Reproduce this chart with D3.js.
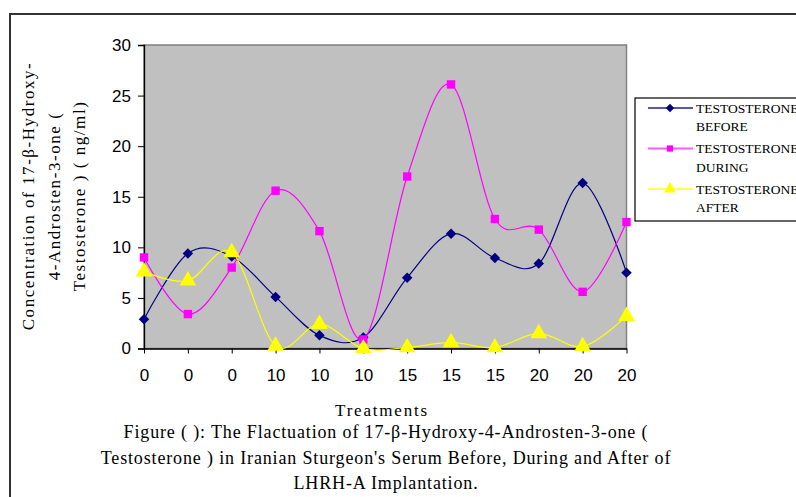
<!DOCTYPE html>
<html>
<head>
<meta charset="utf-8">
<script src="https://cdn.jsdelivr.net/npm/d3@7"></script>
<style>
  html, body { margin: 0; padding: 0; background: #fff; overflow: hidden; }
  svg { display: block; }
</style>
</head>
<body>
<div id="chart"></div>
<script>
// Treatment categories (dose), one per sample along the x axis
const categories = ["0", "0", "0", "10", "10", "10", "15", "15", "15", "20", "20", "20"];

// Testosterone (ng/ml)
const before = [2.9, 9.4, 9.1, 5.1, 1.3, 1.1, 7.0, 11.35, 8.95, 8.4, 16.35, 7.5];
const during = [9.0, 3.4, 8.0, 15.6, 11.6, 0.9, 17.0, 26.1, 12.8, 11.75, 5.6, 12.5];
const after  = [7.6, 6.7, 9.5, 0.25, 2.4, 0.0, 0.1, 0.6, 0.1, 1.5, 0.2, 3.2];

const yTicks = [0, 5, 10, 15, 20, 25, 30];

const seriesNames = ["TESTOSTERONE BEFORE", "TESTOSTERONE DURING", "TESTOSTERONE AFTER"];

const W = 796, H = 497;
const plot = { left: 144, right: 626.5, top: 45, bottom: 348.5 };

const svg = d3.select("#chart").append("svg")
    .attr("width", W)
    .attr("height", H);

// outer frame, runs off the right and bottom edges
svg.append("rect")
    .attr("x", 10).attr("y", 14)
    .attr("width", 900).attr("height", 600)
    .attr("fill", "none")
    .attr("stroke", "#333")
    .attr("stroke-width", 2);

const x = d3.scalePoint()
    .domain(d3.range(categories.length))
    .range([plot.left, plot.right]);

const y = d3.scaleLinear()
    .domain([0, 30])
    .range([plot.bottom, plot.top]);

// plot area
svg.append("rect")
    .attr("x", plot.left).attr("y", plot.top)
    .attr("width", plot.right - plot.left)
    .attr("height", plot.bottom - plot.top)
    .attr("fill", "#c0c0c0")
    .attr("stroke", "#808080")
    .attr("stroke-width", 1.5);

// y axis
const yAxis = svg.append("g")
    .attr("transform", `translate(${plot.left},0)`)
    .call(d3.axisLeft(y).tickValues(yTicks).tickSize(6).tickPadding(7));
yAxis.select(".domain").attr("stroke", "#000").attr("stroke-width", 1.3);
yAxis.selectAll(".tick line").attr("stroke", "#000");
yAxis.selectAll("text")
    .attr("fill", "#000")
    .style("font-family", "'Liberation Sans', Arial, sans-serif")
    .style("font-size", "17px");

// x axis
const xAxis = svg.append("g")
    .attr("transform", `translate(0,${plot.bottom})`)
    .call(d3.axisBottom(x).tickFormat(i => categories[i]).tickSize(5).tickPadding(15).tickSizeOuter(0));
xAxis.select(".domain").attr("stroke", "#000").attr("stroke-width", 1.3);
xAxis.selectAll(".tick line").attr("stroke", "#000");
xAxis.selectAll("text")
    .attr("fill", "#000")
    .style("font-family", "'Liberation Sans', Arial, sans-serif")
    .style("font-size", "17px");

const line = d3.line()
    .x((d, i) => x(i))
    .y(d => y(d))
    .curve(d3.curveCardinal.tension(0));

const diamond = d3.symbol().type(d3.symbolDiamond2).size(70);
const square = d3.symbol().type(d3.symbolSquare2).size(90);
const triangle = d3.symbol().type(d3.symbolTriangle).size(120);

const series = [
    { name: seriesNames[0], values: before, color: "#000080", symbol: diamond, legendSymbol: d3.symbol().type(d3.symbolDiamond2).size(45) },
    { name: seriesNames[1], values: during, color: "#ff00ff", symbol: square, legendSymbol: d3.symbol().type(d3.symbolSquare2).size(50) },
    { name: seriesNames[2], values: after, color: "#ffff00", symbol: triangle, legendSymbol: d3.symbol().type(d3.symbolTriangle).size(60) }
];

const lines = svg.append("g");
series.forEach(s => {
    lines.append("path")
        .datum(s.values)
        .attr("fill", "none")
        .attr("stroke", s.color)
        .attr("stroke-width", 1.2)
        .attr("d", line);
});

// markers on top of all lines, drawn in series order
series.forEach(s => {
    lines.append("g").selectAll("path")
        .data(s.values)
        .join("path")
        .attr("transform", (d, i) => `translate(${x(i)},${y(d)})`)
        .attr("d", s.symbol)
        .attr("fill", s.color);
});

// legend
const legend = svg.append("g").attr("transform", "translate(635,98)");
legend.append("rect")
    .attr("width", 200).attr("height", 123)
    .attr("fill", "#fff")
    .attr("stroke", "#000")
    .attr("stroke-width", 1.2);

series.forEach((s, i) => {
    const row = legend.append("g").attr("transform", `translate(0,${10 + i * 40.5})`);
    row.append("line")
        .attr("x1", 13).attr("x2", 58)
        .attr("y1", 0).attr("y2", 0)
        .attr("stroke", s.color)
        .attr("stroke-opacity", 0.65)
        .attr("stroke-width", 2);
    row.append("path")
        .attr("transform", "translate(35,0)")
        .attr("d", s.legendSymbol)
        .attr("fill", s.color);
    const words = s.name.split(" ");
    const t = row.append("text")
        .attr("x", 61)
        .attr("y", 4.8)
        .style("font-family", "'Liberation Serif', 'Times New Roman', serif")
        .style("font-size", "13.5px")
        .attr("fill", "#000");
    t.append("tspan").attr("x", 61).attr("dy", 0).text(words[0]);
    t.append("tspan").attr("x", 61).attr("dy", 18.5).text(words[1]);
});

// y axis title
const yTitle = ["Concentration of 17-β-Hydroxy-", "4-Androsten-3-one (", "Testosterone ) ( ng/ml)"];
const yt = svg.append("text")
    .attr("transform", "translate(34,196) rotate(-90)")
    .attr("text-anchor", "middle")
    .style("font-family", "'Liberation Serif', 'Times New Roman', serif")
    .style("font-size", "17px")
    .style("letter-spacing", "1.55px")
    .attr("fill", "#000");
yTitle.forEach((l, i) => {
    yt.append("tspan").attr("x", 0).attr("y", i * 25.5).text(l);
});

// x axis title
svg.append("text")
    .attr("x", 382).attr("y", 416)
    .attr("text-anchor", "middle")
    .style("font-family", "'Liberation Serif', 'Times New Roman', serif")
    .style("font-size", "17px")
    .style("letter-spacing", "1.8px")
    .attr("fill", "#000")
    .text("Treatments");

// caption
const caption = [
    "Figure ( ): The Flactuation of 17-β-Hydroxy-4-Androsten-3-one (",
    "Testosterone ) in Iranian Sturgeon's Serum Before, During and After of",
    "LHRH-A Implantation."
];
const cap = svg.append("text")
    .attr("text-anchor", "middle")
    .style("font-family", "'Liberation Serif', 'Times New Roman', serif")
    .style("font-size", "18px")
    .style("letter-spacing", "0.85px")
    .attr("fill", "#000");
caption.forEach((l, i) => {
    cap.append("tspan").attr("x", 386).attr("y", 438 + i * 25.5).text(l);
});
</script>
</body>
</html>
